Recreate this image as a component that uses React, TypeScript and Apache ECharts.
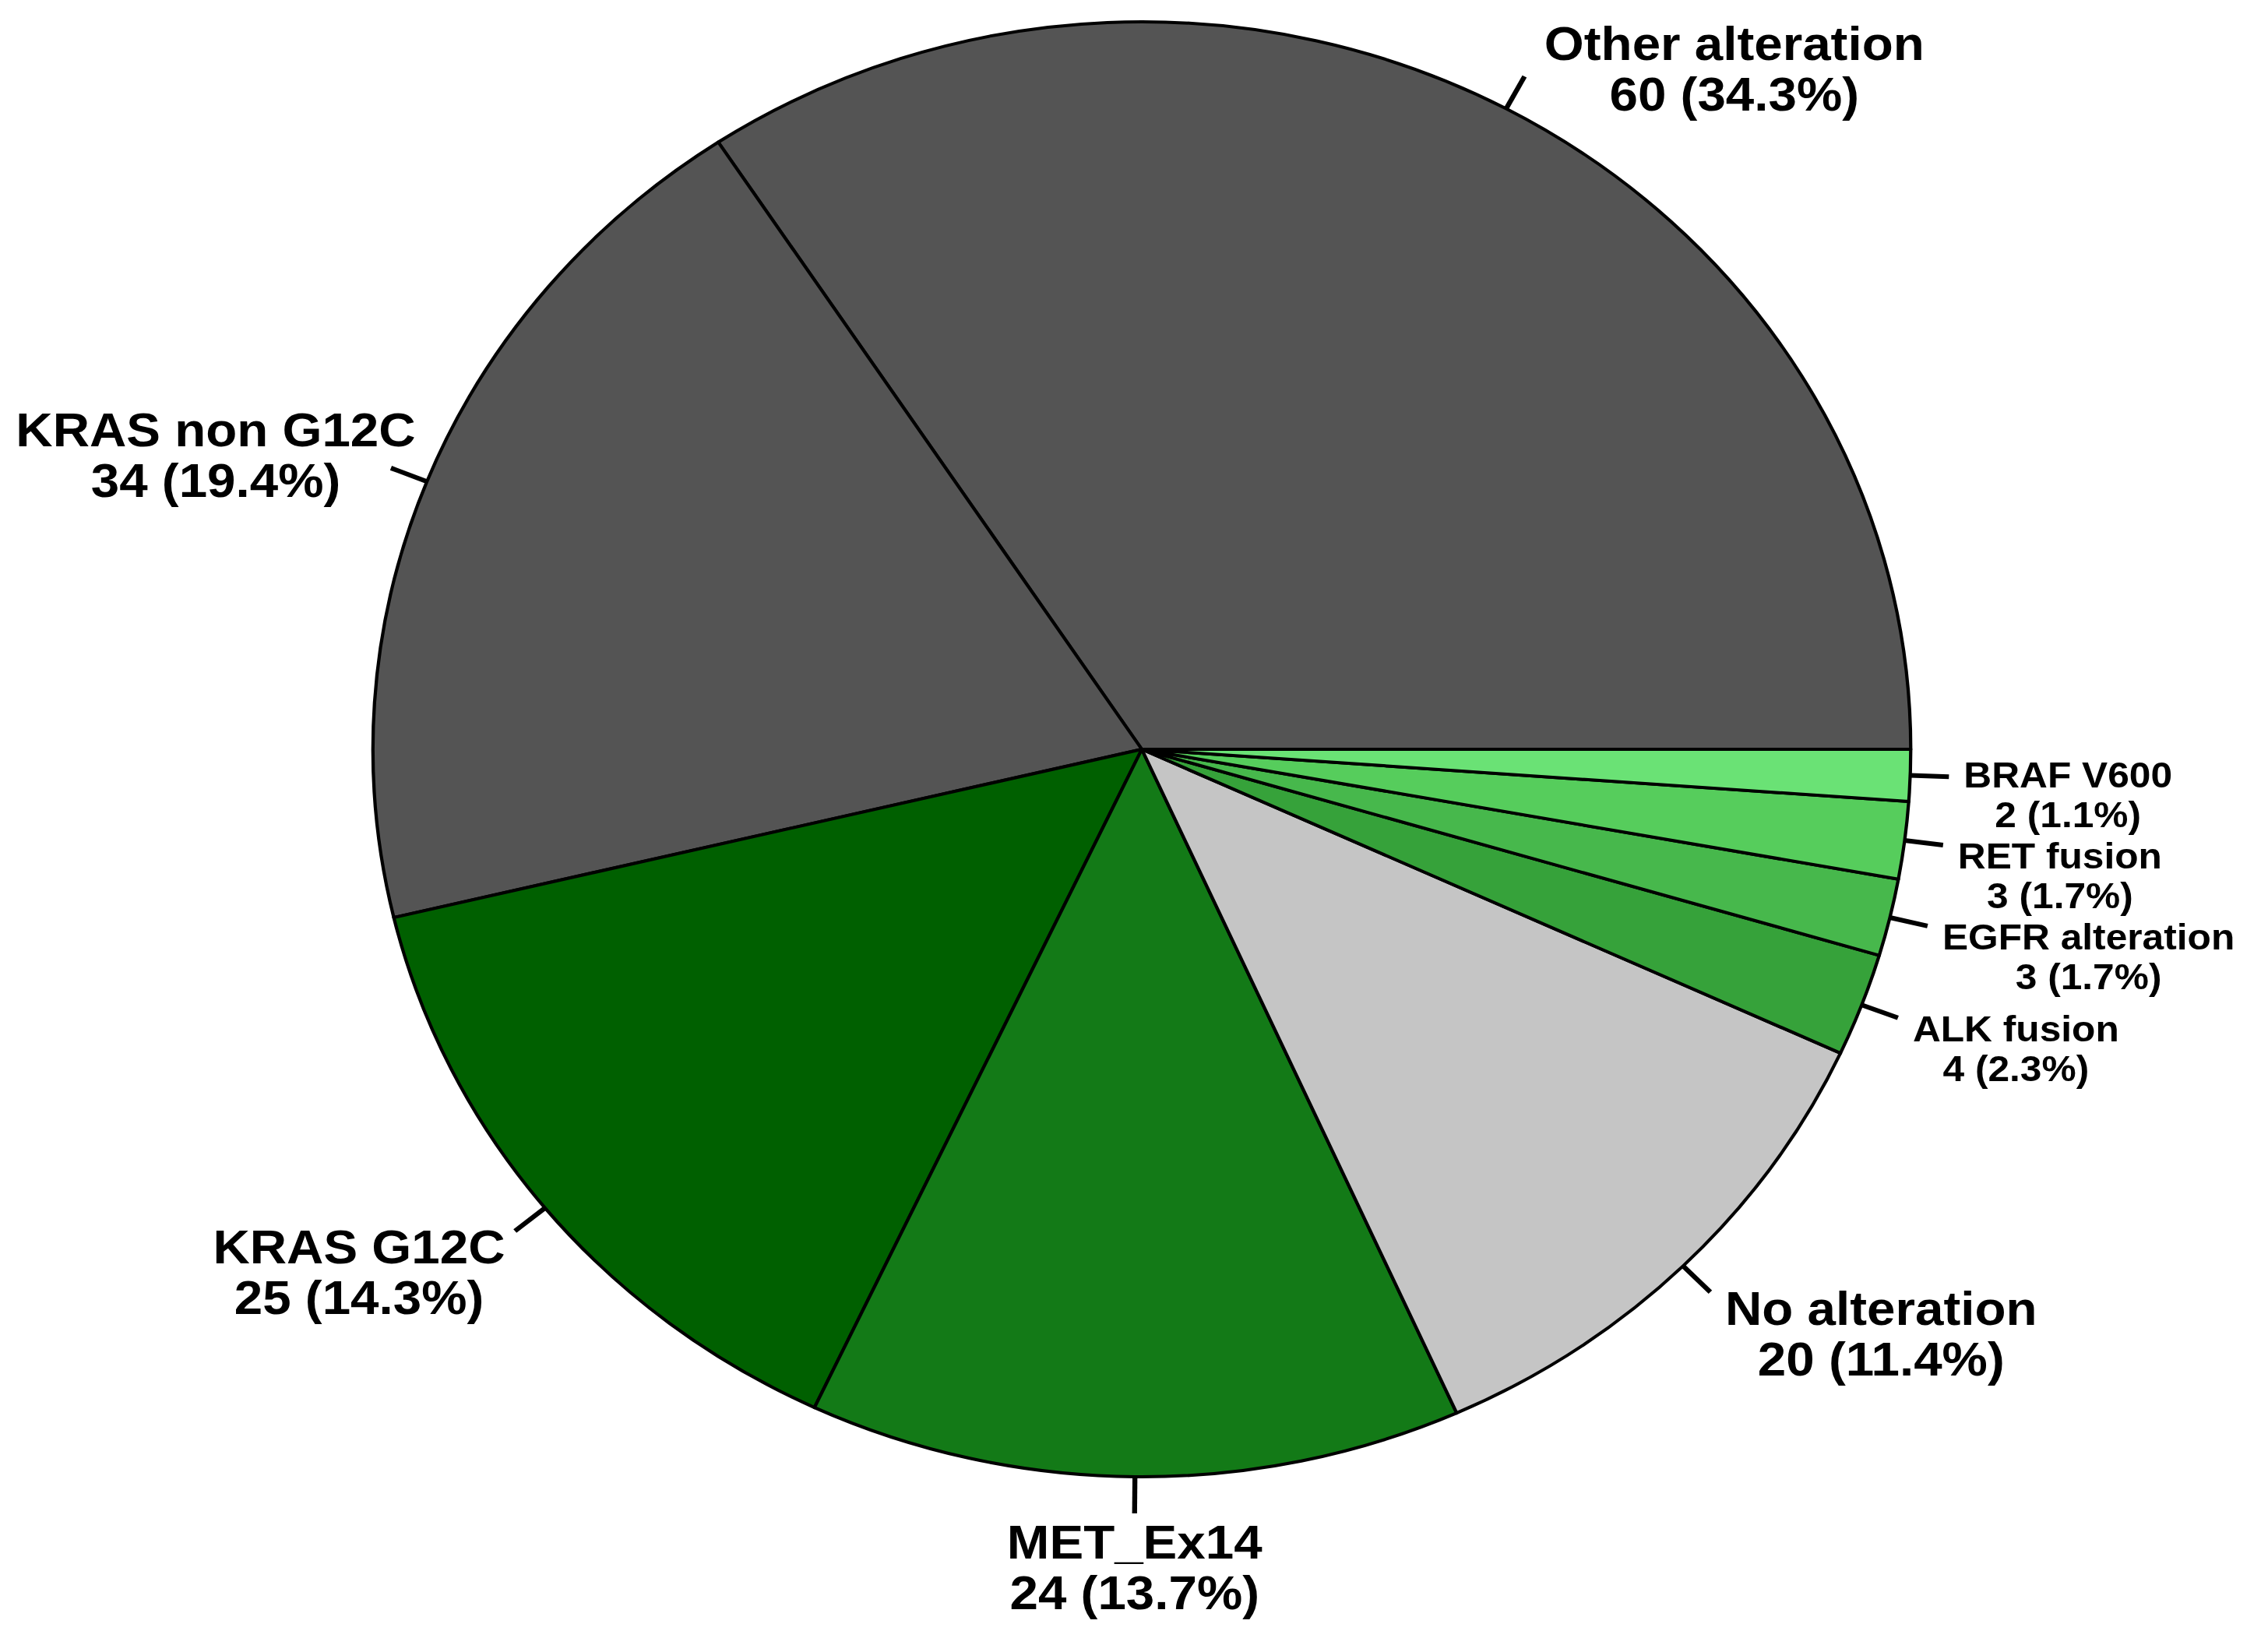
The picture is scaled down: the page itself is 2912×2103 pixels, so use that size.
import { useEffect, useRef } from "react"
import * as echarts from "echarts"

// slice order: counter-clockwise starting at 3 o'clock
const categories = [
    "Other alteration",
    "KRAS non G12C",
    "KRAS G12C",
    "MET_Ex14",
    "No alteration",
    "ALK fusion",
    "EGFR alteration",
    "RET fusion",
    "BRAF V600",
]
const counts = [60, 34, 25, 24, 20, 4, 3, 3, 2]
const sliceColors = ["#545454", "#545454", "#006000", "#137a17", "#c5c5c5", "#36a23a", "#47b84c", "#56cd5c", "#6ae275"]

// the original pie is slightly wider than tall, so the chart is stretched horizontally
const STRETCH_X = 1.057
const WIDTH = Math.round(2912 / STRETCH_X)
const HEIGHT = 2103

const BIG = { fontSize: 62, lineHeight: 65 }
const SMALL = { fontSize: 47, lineHeight: 51 }

const total = counts.reduce((a, b) => a + b, 0)
const isSmall = (v: number) => v < 5

export default function App() {
    const chartRef = useRef<HTMLDivElement>(null)

    useEffect(() => {
        if (!chartRef.current) return
        document.body.style.margin = "0"

        const chart = echarts.init(chartRef.current, undefined, { renderer: "svg" })

        const font = "'Liberation Sans', Arial, Helvetica, sans-serif"
        const textStyle = (s: { fontSize: number; lineHeight: number }) => ({
            ...s,
            fontWeight: "bold",
            fontFamily: font,
            color: "#000000",
            align: "center",
        })

        // labels on the lower right are stacked upwards so they don't run into each other
        let prevTop = Infinity

        const option: any = {
            animation: false,
            backgroundColor: "#ffffff",
            series: [
                {
                    type: "pie",
                    center: [1387, 962],
                    radius: 934,
                    startAngle: 0,
                    clockwise: false,
                    avoidLabelOverlap: false,
                    emphasis: { disabled: true },
                    itemStyle: { borderColor: "#000000", borderWidth: 4 },
                    label: {
                        show: true,
                        position: "outside",
                        color: "#000000",
                        fontFamily: font,
                        fontWeight: "bold",
                        formatter: (p: any) => {
                            const pct = ((p.value / total) * 100).toFixed(1)
                            const s = isSmall(p.value) ? "s" : "b"
                            return `{${s}|${p.name}}\n{${s}|${p.value} (${pct}%)}`
                        },
                        rich: { b: textStyle(BIG), s: textStyle(SMALL) },
                    },
                    labelLine: {
                        show: true,
                        length: 47,
                        length2: 0,
                        smooth: false,
                        lineStyle: { color: "#000000", width: 6 },
                    },
                    labelLayout: (params: any) => {
                        const pts = params.labelLinePoints
                        if (!pts) return {}
                        if (params.dataIndex === 0) prevTop = Infinity
                        const [sx, sy] = pts[0]
                        const [ex, ey] = pts[1]
                        const dx = ex - sx
                        const dy = ey - sy
                        const lh = isSmall(counts[params.dataIndex]) ? SMALL.lineHeight : BIG.lineHeight
                        const h = lh * 2
                        // slice pointing straight down: label centred under the tick
                        if (dy > 0 && Math.abs(dx) < dy * 0.2) {
                            return { x: ex, y: ey + 4, align: "center", verticalAlign: "top", labelLinePoints: pts }
                        }
                        if (dy < 0) {
                            // upper half
                            if (dx >= 0) {
                                return { x: ex + 24, y: ey - 10, align: "left", verticalAlign: "middle", labelLinePoints: pts }
                            }
                            return { x: ex + 30, y: ey - 17, align: "right", verticalAlign: "middle", labelLinePoints: pts }
                        }
                        // lower half
                        let cy = ey + h / 2 - 12
                        if (dx >= 0) {
                            if (cy + h / 2 + 2 > prevTop) cy = prevTop - 2 - h / 2
                            prevTop = cy - h / 2
                            return { x: ex + 18, y: cy, align: "left", verticalAlign: "middle", labelLinePoints: pts }
                        }
                        return { x: ex - 12, y: cy, align: "right", verticalAlign: "middle", labelLinePoints: pts }
                    },
                    data: categories.map((name, i) => ({
                        name,
                        value: counts[i],
                        itemStyle: { color: sliceColors[i] },
                    })),
                },
            ],
        }

        chart.setOption(option)

        return () => {
            chart.dispose()
        }
    }, [])

    return (
        <div
            ref={chartRef}
            style={{
                width: WIDTH,
                height: HEIGHT,
                transform: `scaleX(${STRETCH_X})`,
                transformOrigin: "0 0",
            }}
        />
    )
}
